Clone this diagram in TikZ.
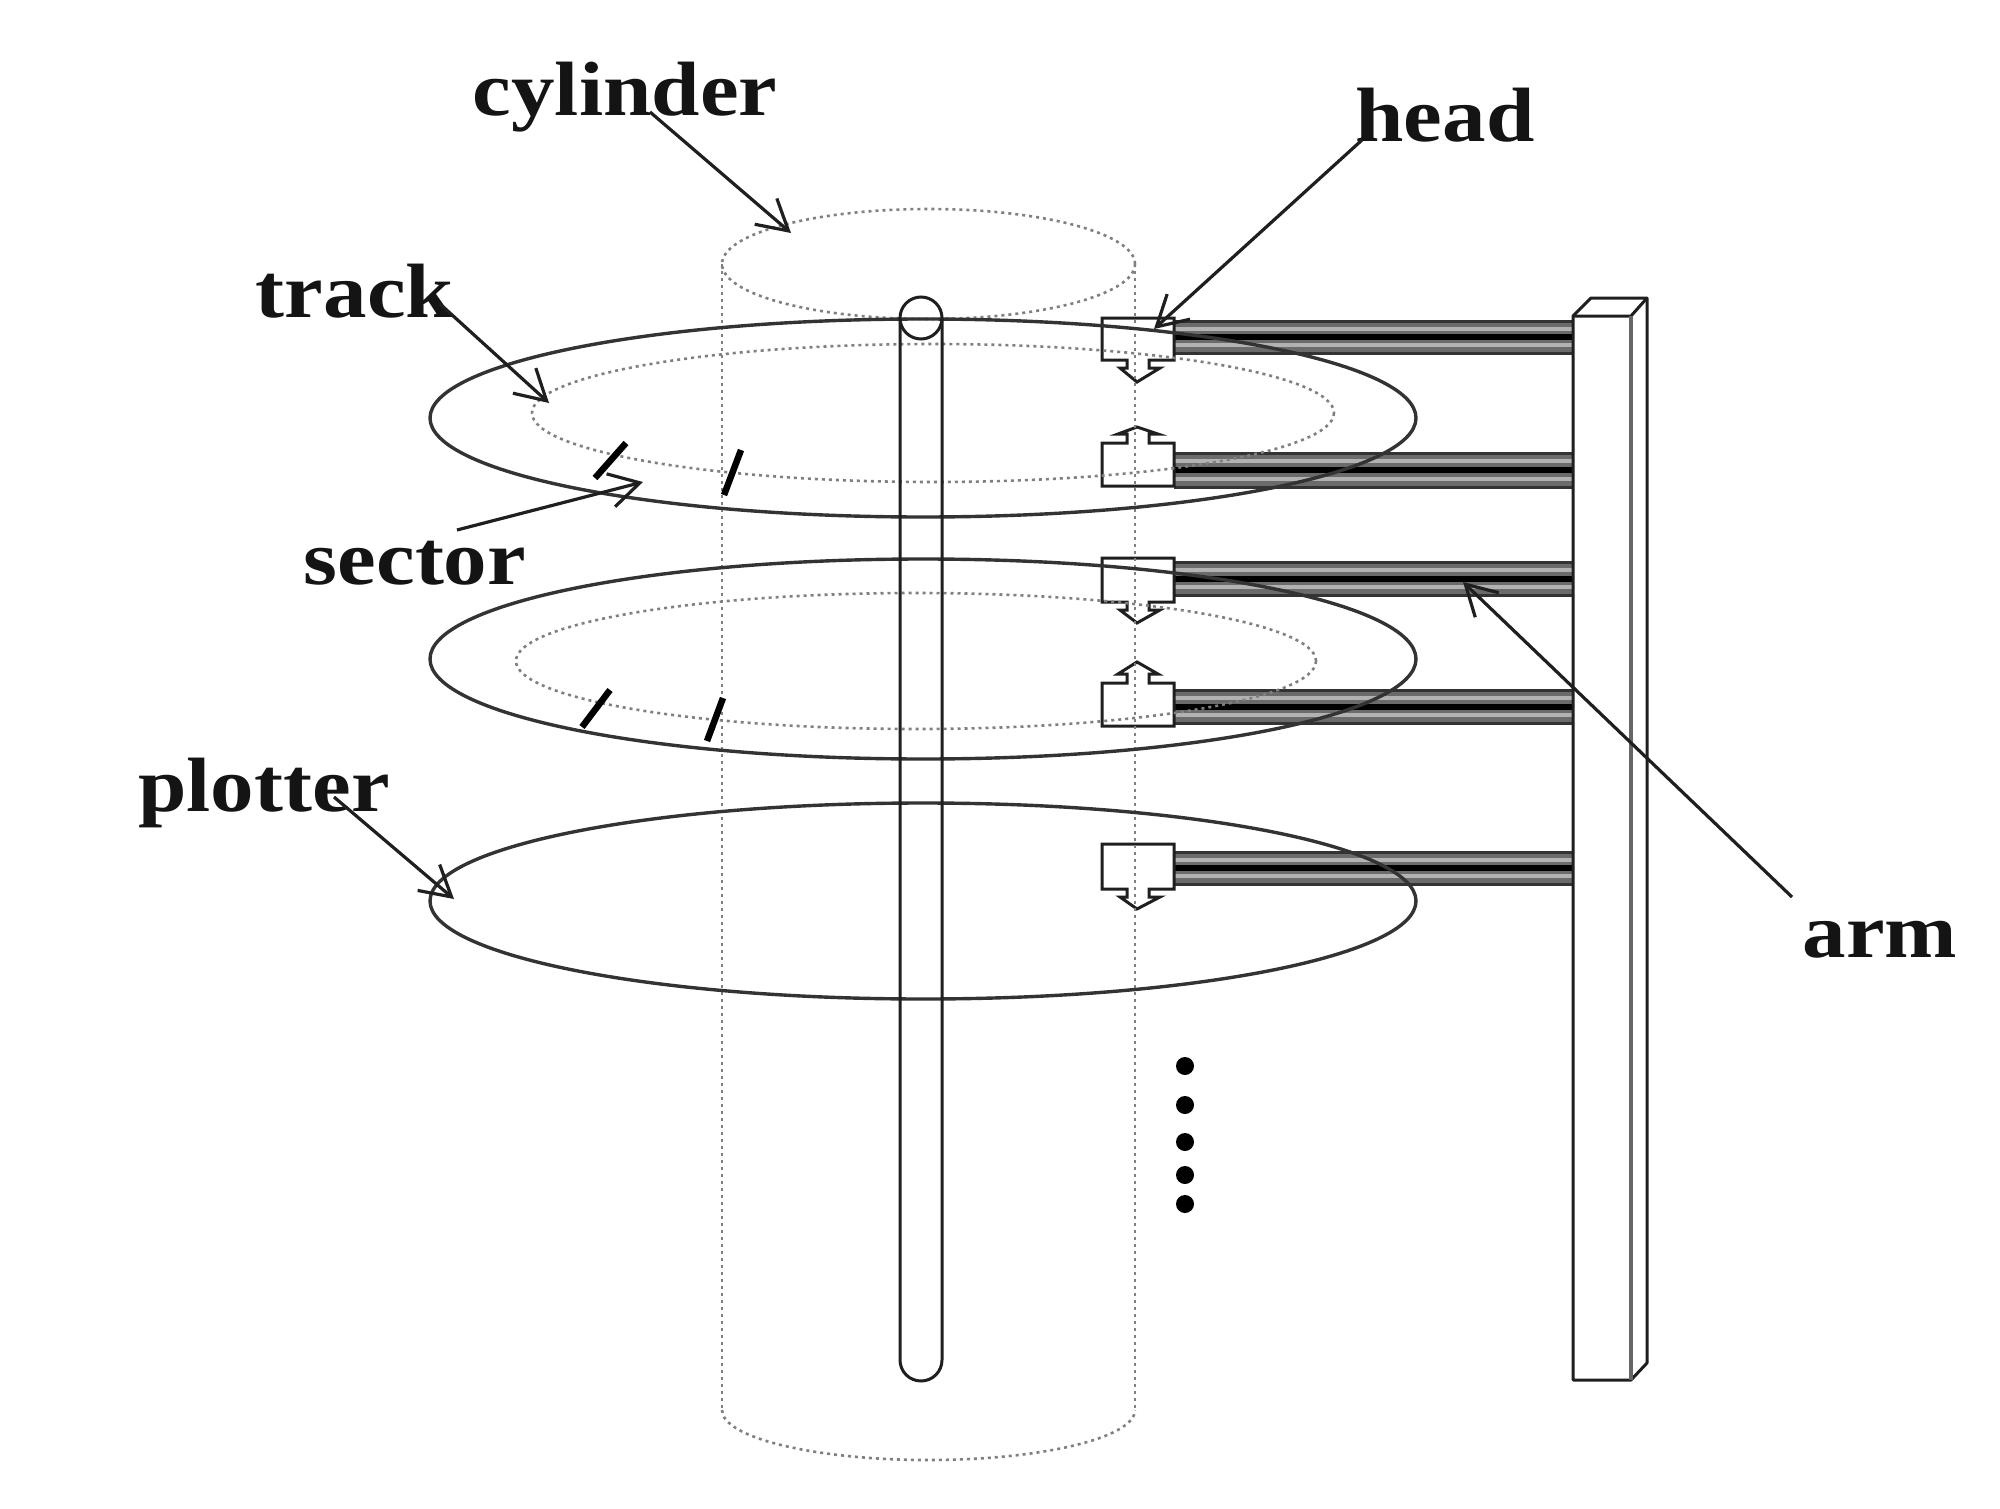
\documentclass[tikz,border=0pt]{standalone}
\usepackage{fontspec}
\setmainfont{Liberation Serif}
\newfontfamily\lblfont[FakeStretch=1.13]{Liberation Serif}
\usetikzlibrary{arrows.meta}
\tikzset{
  x=1pt,y=-1pt,
  solidline/.style={draw=black!80,line width=3.4pt},
  thinline/.style={draw=black!88,line width=3pt},
  dotline/.style={draw=black!50,line width=2.6pt,dash pattern=on 3pt off 4pt},
  label/.style={font=\lblfont\bfseries\fontsize{77}{80}\selectfont,text=black!92,inner sep=0pt},
  pointer/.style={draw=black!88,line width=3.2pt,-{Straight Barb[length=30pt,width=34pt,line width=3.2pt]}},
  tick/.style={draw=black,line width=6.5pt},
  dot/.style={circle,fill=black,inner sep=0pt,minimum size=18pt},
  headbox/.style={draw=black!88,line width=3pt,fill=white,line join=miter},
}
\newcommand{\armbar}[2]{%
  \fill[black!58] (1174,#1) rectangle (1573,#2);
  \fill[black!30] (1174,{#1+6}) rectangle (1573,{#1+10});
  \fill[black!30] (1174,{#2-10}) rectangle (1573,{#2-6});
  \draw[black!80,line width=3pt] (1174,#1) -- (1573,#1);
  \draw[black!80,line width=3pt] (1174,#2) -- (1573,#2);
  \draw[black,line width=6pt] (1174,{(#1+#2)/2}) -- (1573,{(#1+#2)/2});
}
\newcommand{\headdown}[3]{% top, body bottom, tip
  \draw[headbox] (1102,#1) -- (1174,#1) -- (1174,#2) -- (1149,#2) -- (1149,{#2+8}) -- (1160,{#2+8}) -- (1137,#3) -- (1120,{#2+8}) -- (1127,{#2+8}) -- (1127,#2) -- (1102,#2) -- cycle;
}
\newcommand{\headup}[3]{% tip, body top, bottom
  \draw[headbox] (1102,#3) -- (1174,#3) -- (1174,#2) -- (1149,#2) -- (1149,{#2-9}) -- (1158,{#2-9}) -- (1137,#1) -- (1118,{#2-9}) -- (1127,{#2-9}) -- (1127,#2) -- (1102,#2) -- cycle;
}
\begin{document}
\begin{tikzpicture}
\useasboundingbox (0,0) rectangle (2000,1509);
\fill[white] (0,0) rectangle (2000,1509);

% arms
\armbar{321}{353}
\armbar{453}{487}
\armbar{562}{595}
\armbar{690}{723}
\armbar{852}{884}

% heads
\headdown{318}{360}{382}
\headup{427}{443}{486}
\headdown{558}{602}{623}
\headup{662}{683}{726}
\headdown{844}{889}{909}

% support bar
\draw[thinline,fill=white,line join=round] (1573,316) -- (1591,298) -- (1647,298) -- (1647,1363) -- (1631,1380) -- (1573,1380) -- cycle;
\draw[thinline] (1573,316) -- (1631,316) -- (1647,298);
\draw[draw=black!60,line width=3.4pt] (1631,316) -- (1631,1380);

% cylinder
\draw[dotline] (928.5,264) ellipse [x radius=206.5,y radius=55];
\draw[dotline] (722,264) -- (722,1410);
\draw[dotline] (1135,264) -- (1135,1410);
\draw[dotline] (722,1410) arc [start angle=180,end angle=360,x radius=206.5,y radius=-50];

% discs
\draw[solidline] (923,418) ellipse [x radius=493,y radius=99];
\draw[solidline] (923,659) ellipse [x radius=493,y radius=100];
\draw[solidline] (923,901) ellipse [x radius=493,y radius=98];

% tracks
\draw[dotline] (933,413) ellipse [x radius=401,y radius=69];
\draw[dotline] (916,661) ellipse [x radius=400,y radius=68];

% sector ticks
\draw[tick] (626,443) -- (595,478);
\draw[tick] (741,450) -- (724,495);
\draw[tick] (610,690) -- (582,727);
\draw[tick] (723,698) -- (707,741);

% spindle
\draw[thinline] (921,318) circle [radius=21];
\draw[thinline] (900,318) -- (900,1360) arc [start angle=180,end angle=360,x radius=21,y radius=-21] -- (942,318);

% continuation dots
\node[dot] (d1) at (1185,1066) {};
\node[dot] (d2) at (1185,1105) {};
\node[dot] (d3) at (1185,1142) {};
\node[dot] (d4) at (1185,1175) {};
\node[dot] (d5) at (1185,1204) {};

% labels
\node[label] (cylinder) at (625,97) {cylinder};
\node[label] (head) at (1445,115) {head};
\node[label] (track) at (355,291) {track};
\node[label] (sector) at (415,563) {sector};
\node[label] (plotter) at (264,793) {plotter};
\node[label] (arm) at (1880,940) {arm};

% leader ends
\coordinate (cylS) at (650,112);
\coordinate (cylT) at (791,233);
\coordinate (headS) at (1362,140);
\coordinate (headT) at (1154,329);
\coordinate (trkS) at (440,304);
\coordinate (trkT) at (549,403);
\coordinate (secS) at (457,530);
\coordinate (secT) at (643,482);
\coordinate (pltS) at (334,797);
\coordinate (pltT) at (454,899);
\coordinate (armS) at (1792,897);
\coordinate (armT) at (1463,582);

\draw[pointer] (cylS) -- (cylT);
\draw[pointer] (headS) -- (headT);
\draw[pointer] (trkS) -- (trkT);
\draw[pointer] (secS) -- (secT);
\draw[pointer] (pltS) -- (pltT);
\draw[pointer] (armS) -- (armT);
\end{tikzpicture}
\end{document}
